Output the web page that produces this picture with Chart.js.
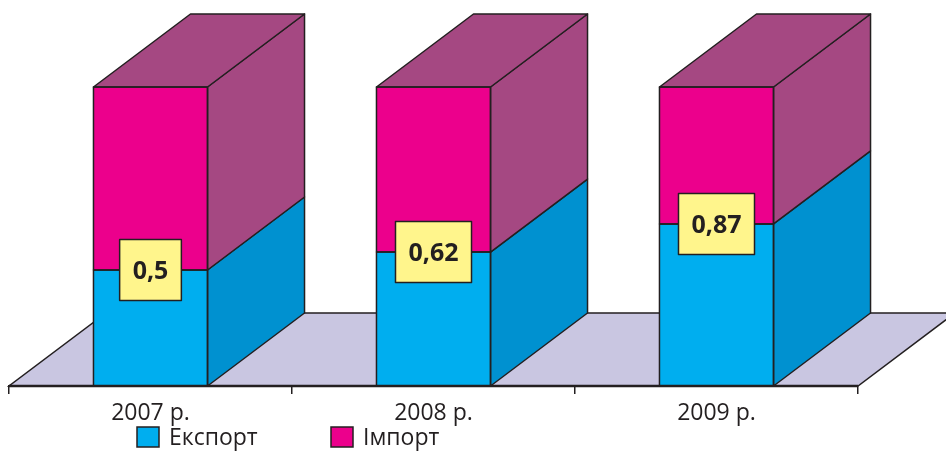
<!DOCTYPE html>
<html>
<head>
<meta charset="utf-8">
<script src="https://cdn.jsdelivr.net/npm/chart.js@4.4.0/dist/chart.umd.min.js"></script>
<style>
    body { margin: 0; background: #ffffff; }
    #chart { display: block; }
</style>
</head>
<body>
<canvas id="chart" width="946" height="453"></canvas>
<script>
// Chart data
const years = ['2007 р.', '2008 р.', '2009 р.'];
const exportShare = [38.8, 44.8, 54.2];
const importShare = [61.2, 55.2, 45.8];
const coverage = ['0,5', '0,62', '0,87'];
const seriesNames = ['Експорт', 'Імпорт'];

// Styles
const LINE = '#231f20';
const FRONT = ['#00aeef', '#ec008c'];
const SIDE = ['#0091d0', '#a54882'];
const FLOOR = '#c9c6e1';
const LABEL_BG = '#fff58c';
const DEPTH_X = 97;
const DEPTH_Y = 73;
const FONT = '"Open Sans", "Noto Sans", sans-serif';

// Draw floor behind the bars
const floorPlugin = {
    id: 'floor3d',
    beforeDatasetsDraw(chart) {
        const ctx = chart.ctx;
        const a = chart.chartArea;
        ctx.save();
        ctx.beginPath();
        ctx.moveTo(a.left, a.bottom);
        ctx.lineTo(a.right, a.bottom);
        ctx.lineTo(a.right + DEPTH_X, a.bottom - DEPTH_Y);
        ctx.lineTo(a.left + DEPTH_X, a.bottom - DEPTH_Y);
        ctx.closePath();
        ctx.fillStyle = FLOOR;
        ctx.fill();
        ctx.lineWidth = 1.5;
        ctx.strokeStyle = LINE;
        ctx.stroke();
        ctx.restore();
    }
};

// Draw side and top faces, value boxes and legend
const boxPlugin = {
    id: 'box3d',
    afterDatasetsDraw(chart) {
        const ctx = chart.ctx;
        const last = chart.data.datasets.length - 1;
        ctx.save();
        ctx.lineWidth = 1.5;
        ctx.strokeStyle = LINE;
        ctx.lineJoin = 'round';
        chart.data.datasets.forEach((ds, di) => {
            const meta = chart.getDatasetMeta(di);
            meta.data.forEach(bar => {
                const p = bar.getProps(['x', 'y', 'base', 'width'], true);
                const xl = p.x - p.width / 2;
                const xr = p.x + p.width / 2;
                // side face
                ctx.beginPath();
                ctx.moveTo(xr, p.y);
                ctx.lineTo(xr + DEPTH_X, p.y - DEPTH_Y);
                ctx.lineTo(xr + DEPTH_X, p.base - DEPTH_Y);
                ctx.lineTo(xr, p.base);
                ctx.closePath();
                ctx.fillStyle = SIDE[di];
                ctx.fill();
                ctx.stroke();
                // top face
                if (di === last) {
                    ctx.beginPath();
                    ctx.moveTo(xl, p.y);
                    ctx.lineTo(xl + DEPTH_X, p.y - DEPTH_Y);
                    ctx.lineTo(xr + DEPTH_X, p.y - DEPTH_Y);
                    ctx.lineTo(xr, p.y);
                    ctx.closePath();
                    ctx.fillStyle = SIDE[di];
                    ctx.fill();
                    ctx.stroke();
                }
                // front outline
                ctx.strokeRect(xl, p.y, p.width, p.base - p.y);
            });
        });

        // front edge of the floor
        const a = chart.chartArea;
        ctx.lineWidth = 2.5;
        ctx.beginPath();
        ctx.moveTo(a.left, a.bottom);
        ctx.lineTo(a.right, a.bottom);
        ctx.stroke();

        // value boxes on the export / import boundary
        const meta0 = chart.getDatasetMeta(0);
        ctx.font = 'bold 25px ' + FONT;
        ctx.textAlign = 'center';
        ctx.textBaseline = 'middle';
        ctx.lineWidth = 1.5;
        meta0.data.forEach((bar, i) => {
            const w = ctx.measureText(coverage[i]).width + 26;
            const h = 61;
            const bx = bar.x - w / 2;
            const by = bar.y - h / 2;
            ctx.fillStyle = LABEL_BG;
            ctx.fillRect(bx, by, w, h);
            ctx.strokeRect(bx, by, w, h);
            ctx.fillStyle = LINE;
            ctx.fillText(coverage[i], bar.x, bar.y + 2);
        });
        ctx.restore();
    },
    afterDraw(chart) {
        const ctx = chart.ctx;
        const startX = [137, 331];
        ctx.save();
        ctx.font = '23px ' + FONT;
        ctx.textAlign = 'left';
        ctx.textBaseline = 'middle';
        ctx.lineWidth = 1.5;
        ctx.strokeStyle = LINE;
        seriesNames.forEach((name, i) => {
            ctx.fillStyle = FRONT[i];
            ctx.fillRect(startX[i], 427, 22, 20);
            ctx.strokeRect(startX[i], 427, 22, 20);
            ctx.fillStyle = LINE;
            ctx.fillText(name, startX[i] + 32, 438);
        });
        ctx.restore();
    }
};

const ctx = document.getElementById('chart').getContext('2d');
const chart = new Chart(ctx, {
    type: 'bar',
    data: {
        labels: years,
        datasets: [{
            label: seriesNames[0],
            data: exportShare,
            backgroundColor: FRONT[0],
            borderWidth: 0
        }, {
            label: seriesNames[1],
            data: importShare,
            backgroundColor: FRONT[1],
            borderWidth: 0
        }]
    },
    options: {
        responsive: false,
        devicePixelRatio: 1,
        animation: false,
        categoryPercentage: 1,
        barPercentage: 0.403,
        layout: {
            padding: { top: 87, left: 9, right: 88, bottom: 0 }
        },
        plugins: {
            legend: { display: false },
            tooltip: { enabled: false }
        },
        scales: {
            x: {
                stacked: true,
                offset: true,
                afterFit: scale => { scale.height = 67; },
                grid: {
                    display: true,
                    offset: true,
                    drawOnChartArea: false,
                    drawTicks: true,
                    tickLength: 8,
                    color: LINE,
                    lineWidth: 1.5
                },
                border: { display: true, color: LINE, width: 2 },
                ticks: {
                    color: LINE,
                    padding: 6,
                    font: { family: FONT, size: 23 }
                }
            },
            y: {
                stacked: true,
                display: false,
                min: 0,
                max: 100
            }
        }
    },
    plugins: [floorPlugin, boxPlugin]
});
</script>
</body>
</html>
